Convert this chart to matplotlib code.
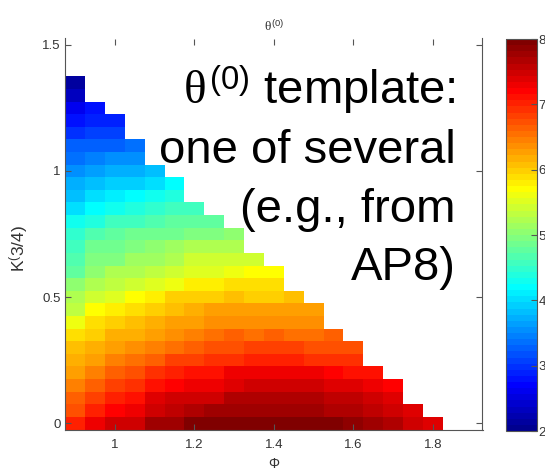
import numpy as np
import matplotlib
matplotlib.use("Agg")
import matplotlib.pyplot as plt
from matplotlib.colors import ListedColormap

plt.rcParams['font.family'] = ['Liberation Sans', 'DejaVu Sans']
plt.rcParams['mathtext.fontset'] = 'custom'
plt.rcParams['mathtext.rm'] = 'Liberation Sans'
plt.rcParams['mathtext.it'] = 'Liberation Serif'

# grid: Phi (columns) and K^(3/4) (rows)
phi = [0.9, 0.95, 1.0, 1.05, 1.1, 1.15, 1.2, 1.25, 1.3, 1.35,
       1.4, 1.45, 1.5, 1.55, 1.6, 1.65, 1.7, 1.75, 1.8]
k34 = [0.0, 0.05, 0.1, 0.15, 0.2, 0.25, 0.3, 0.35, 0.4, 0.45,
       0.5, 0.55, 0.6, 0.65, 0.7, 0.75, 0.8, 0.85, 0.9, 0.95,
       1.0, 1.05, 1.1, 1.15, 1.2, 1.25, 1.3, 1.35]

# theta^(0) values, one list per K row (from K=0 upward), left to right in Phi
row_00 = [7.01, 7.25, 7.46, 7.51, 7.75, 7.81, 7.93, 7.95, 8.0, 8.0, 8.0, 8.0, 8.0, 8.0, 7.9, 7.81, 7.69, 7.51, 7.43]
row_01 = [6.78, 7.01, 7.19, 7.34, 7.51, 7.57, 7.69, 7.75, 7.81, 7.81, 7.81, 7.81, 7.81, 7.69, 7.69, 7.6, 7.51, 7.4]
row_02 = [6.6, 6.84, 7.01, 7.07, 7.4, 7.46, 7.51, 7.51, 7.63, 7.63, 7.63, 7.63, 7.63, 7.54, 7.54, 7.46, 7.4]
row_03 = [6.43, 6.66, 6.84, 6.96, 7.07, 7.19, 7.34, 7.34, 7.43, 7.46, 7.46, 7.46, 7.46, 7.4, 7.37, 7.25, 7.19]
row_04 = [6.31, 6.49, 6.66, 6.78, 6.96, 7.01, 7.07, 7.13, 7.25, 7.25, 7.25, 7.25, 7.25, 7.19, 7.1, 7.07]
row_05 = [6.19, 6.31, 6.43, 6.54, 6.6, 6.84, 6.84, 6.9, 6.96, 7.01, 7.01, 7.01, 6.96, 6.96, 6.9]
row_06 = [6.07, 6.16, 6.28, 6.37, 6.43, 6.54, 6.66, 6.72, 6.78, 6.84, 6.84, 6.84, 6.78, 6.78, 6.72]
row_07 = [5.87, 6.01, 6.13, 6.19, 6.28, 6.37, 6.43, 6.54, 6.6, 6.54, 6.6, 6.54, 6.54, 6.6]
row_08 = [5.63, 5.9, 5.99, 6.04, 6.13, 6.22, 6.31, 6.37, 6.4, 6.37, 6.37, 6.37, 6.37]
row_09 = [5.37, 5.66, 5.75, 5.9, 5.99, 6.07, 6.13, 6.22, 6.25, 6.25, 6.25, 6.25, 6.28]
row_10 = [5.19, 5.43, 5.51, 5.66, 5.75, 5.96, 5.99, 5.99, 6.07, 6.01, 6.01, 6.04]
row_11 = [5.01, 5.19, 5.37, 5.43, 5.51, 5.6, 5.75, 5.75, 5.9, 5.87, 5.87]
row_12 = [4.78, 5.07, 5.19, 5.28, 5.37, 5.43, 5.51, 5.54, 5.63, 5.66, 5.66]
row_13 = [4.68, 4.96, 4.96, 5.13, 5.13, 5.25, 5.4, 5.4, 5.43, 5.43]
row_14 = [4.6, 4.84, 4.9, 4.96, 5.04, 5.13, 5.25, 5.25, 5.25]
row_15 = [4.45, 4.66, 4.78, 4.84, 4.9, 4.9, 4.96, 4.99, 5.01]
row_16 = [4.25, 4.43, 4.54, 4.6, 4.66, 4.72, 4.72, 4.78]
row_17 = [4.01, 4.16, 4.25, 4.37, 4.49, 4.54, 4.54]
row_18 = [3.87, 3.99, 4.1, 4.16, 4.25, 4.37]
row_19 = [3.69, 3.81, 3.9, 3.96, 4.01, 4.16]
row_20 = [3.57, 3.66, 3.72, 3.78, 3.81]
row_21 = [3.4, 3.49, 3.51, 3.57]
row_22 = [3.22, 3.28, 3.28, 3.34]
row_23 = [2.96, 3.04, 3.1]
row_24 = [2.8, 2.87, 2.93]
row_25 = [2.6, 2.75]
row_26 = [2.3]
row_27 = [2.1]

rows = [row_00, row_01, row_02, row_03, row_04, row_05, row_06, row_07,
        row_08, row_09, row_10, row_11, row_12, row_13, row_14, row_15,
        row_16, row_17, row_18, row_19, row_20, row_21, row_22, row_23,
        row_24, row_25, row_26, row_27]

xticks = [1.0, 1.2, 1.4, 1.6, 1.8]
xticklabels = ['1', '1.2', '1.4', '1.6', '1.8']
yticks = [0, 0.5, 1.0, 1.5]
yticklabels = ['0', '0.5', '1', '1.5']
cticks = [2, 3, 4, 5, 6, 7, 8]

Z = np.full((len(k34), len(phi)), np.nan)
for i, r in enumerate(rows):
    Z[i, :len(r)] = r
Z = np.ma.masked_invalid(Z)


def matlab_jet(m=64):
    # same construction as MATLAB's jet(m)
    n = int(np.ceil(m / 4))
    u = np.concatenate([np.arange(1, n + 1) / n, np.ones(n - 1), np.arange(n, 0, -1) / n])
    g = int(np.ceil(n / 2)) - (1 if m % 4 == 1 else 0) + np.arange(1, len(u) + 1)
    r = g + n
    b = g - n
    J = np.zeros((m, 3))
    for col, idx in ((0, r), (1, g), (2, b)):
        ok = (idx >= 1) & (idx <= m)
        J[idx[ok] - 1, col] = u[ok]
    return ListedColormap(J)


W, H = 545, 471
fig = plt.figure(figsize=(W / 100, H / 100), dpi=100)
ax = fig.add_axes([65.3 / W, 1 - 429.5 / H, 417.2 / W, 391 / H])
cax = fig.add_axes([505.7 / W, 1 - 431 / H, 31.3 / W, 392 / H])

mesh = ax.pcolormesh(phi, k34, Z, shading='nearest', cmap=matlab_jet(64), vmin=2, vmax=8)

ax.set_xlim(0.875, 1.925)
ax.set_ylim(-0.025, 1.525)
ax.set_xticks(xticks)
ax.set_xticklabels(xticklabels)
ax.set_yticks(yticks)
ax.set_yticklabels(yticklabels)

spine_c = '#555555'
txt_c = '#333333'
ax.spines['top'].set_visible(False)
for s in ['left', 'right', 'bottom']:
    ax.spines[s].set_color(spine_c)
ax.tick_params(direction='in', length=4, width=0.8, color=spine_c,
               top=True, right=True, labelsize=9.5, labelcolor=txt_c)
ax.tick_params(axis='x', pad=6.5)
ax.tick_params(axis='y', pad=3.5)

ax.set_title(r'$\theta^{(0)}$', fontsize=9.5, color=txt_c, pad=6)
ax.set_xlabel('Φ', fontsize=10, color=txt_c)
ax.xaxis.set_label_coords(0.5, -0.07)
ax.set_ylabel(r'$\mathrm{K^{(}3/4)}$', fontsize=12.5, color=txt_c)
ax.yaxis.set_label_coords(-0.085, 0.462)

cb = fig.colorbar(mesh, cax=cax, ticks=cticks)
cb.outline.set_edgecolor(spine_c)
cax.tick_params(direction='in', length=4, width=0.8, color=spine_c,
                labelsize=9.5, labelcolor=txt_c, pad=1)

# annotation, right aligned
lines = [r'$\theta^{(0)}$ template:', 'one of several', '(e.g., from', 'AP8)']
baselines = [104, 163, 222, 280]
for s, b in zip(lines, baselines):
    fig.text(456 / W, 1 - b / H, s, fontsize=34, ha='right', va='baseline',
             color='black')

fig.savefig('out.png', dpi=100)
